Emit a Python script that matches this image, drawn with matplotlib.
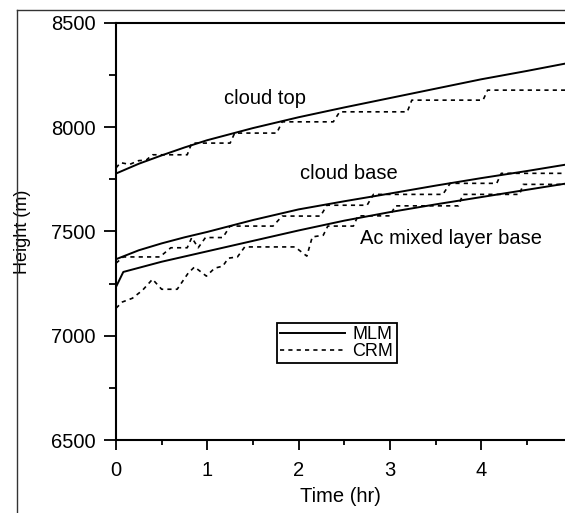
import matplotlib
matplotlib.use("Agg")
import matplotlib.pyplot as plt
from matplotlib.lines import Line2D

plt.rcParams['font.family'] = ['Liberation Sans', 'DejaVu Sans']

# ---- data (time in hr, height in m) ----
t_top_mlm = [0, 0.25, 0.5, 0.75, 1, 1.5, 2, 2.5, 3, 3.5, 4, 4.5, 5]
h_top_mlm = [7778, 7825, 7865, 7903, 7938, 7996, 8048, 8095, 8140, 8185, 8230, 8270, 8312]

t_base_mlm = [0, 0.25, 0.5, 0.75, 1, 1.5, 2, 2.5, 3, 3.5, 4, 4.5, 5]
h_base_mlm = [7367, 7410, 7443, 7472, 7498, 7555, 7606, 7645, 7682, 7720, 7756, 7790, 7826]

t_ac_mlm = [0, 0.08, 0.5, 1, 1.5, 2, 2.5, 3, 3.5, 4, 4.5, 5]
h_ac_mlm = [7234, 7306, 7355, 7405, 7455, 7505, 7552, 7593, 7630, 7665, 7700, 7735]

t_top_crm = [0, 0.05, 0.15, 0.25, 0.33, 0.40, 0.78, 0.83, 1.25, 1.30, 1.76, 1.82,
             2.38, 2.45, 3.19, 3.24, 4.02, 4.07, 5]
h_top_crm = [7805, 7830, 7822, 7840, 7842, 7868, 7868, 7924, 7924, 7972, 7972, 8026,
             8026, 8074, 8074, 8130, 8130, 8178, 8178]

t_base_crm = [0, 0.08, 0.48, 0.60, 0.78, 0.83, 0.90, 0.98, 1.17, 1.25, 1.72, 1.82,
              2.24, 2.31, 2.75, 2.82, 3.58, 3.66, 4.17, 4.22, 5]
h_base_crm = [7348, 7378, 7378, 7422, 7422, 7471, 7422, 7471, 7471, 7526, 7526, 7574,
              7574, 7626, 7626, 7678, 7678, 7731, 7731, 7779, 7779]

t_ac_crm = [0, 0.07, 0.18, 0.29, 0.40, 0.50, 0.67, 0.79, 0.86, 0.99, 1.08, 1.17, 1.23,
            1.33, 1.41, 1.96, 2.09, 2.15, 2.27, 2.32, 2.60, 2.65, 3.0, 3.06, 3.75, 3.8,
            4.42, 4.46, 5]
h_ac_crm = [7132, 7162, 7180, 7218, 7271, 7223, 7223, 7300, 7330, 7286, 7324, 7334, 7372,
            7378, 7426, 7426, 7382, 7474, 7482, 7526, 7526, 7575, 7575, 7623, 7623, 7678,
            7678, 7726, 7726]

x_ticks = [0, 1, 2, 3, 4]
y_ticks = [6500, 7000, 7500, 8000, 8500]

W, H = 565, 513
fig = plt.figure(figsize=(W / 100, H / 100), dpi=100)
left_px, right_px, top_px, bot_px = 116, 565, 23, 440
ax = fig.add_axes([left_px / W, (H - bot_px) / H, (right_px - left_px) / W,
                   (bot_px - top_px) / H])

solid = dict(color='black', lw=1.4, ls='-')
dash = dict(color='black', lw=1.2, ls=(0, (2.5, 2.5)))

ax.plot(t_top_mlm, h_top_mlm, **solid, label='MLM')
ax.plot(t_base_mlm, h_base_mlm, **solid)
ax.plot(t_ac_mlm, h_ac_mlm, **solid)
ax.plot(t_top_crm, h_top_crm, **dash, label='CRM')
ax.plot(t_base_crm, h_base_crm, **dash)
ax.plot(t_ac_crm, h_ac_crm, **dash)

FS = 14.5
xmax = (right_px - left_px) / 91.3
ax.set_xlim(0, xmax)
ax.set_ylim(6500, 8500)
ax.set_xticks(x_ticks)
ax.set_xticks([0.5, 1.5, 2.5, 3.5, 4.5], minor=True)
ax.set_yticks(y_ticks)
ax.set_yticks([6750, 7250, 7750, 8250], minor=True)

ax.tick_params(axis='both', which='both', direction='out', width=1.3, labelsize=FS)
ax.tick_params(axis='y', which='major', length=8.5, pad=6)
ax.tick_params(axis='y', which='minor', length=5)
ax.tick_params(axis='x', which='major', length=7, pad=8)
ax.tick_params(axis='x', which='minor', length=3.5)

for s in ['left', 'bottom', 'top']:
    ax.spines[s].set_linewidth(1.5)
ax.spines['right'].set_visible(False)

ax.set_xlabel('Time (hr)', fontsize=FS)
ax.set_ylabel('Height (m)', fontsize=13)
ax.xaxis.set_label_coords(0.50, -0.113)
ax.yaxis.set_label_coords(-0.19, 0.5)

ax.text(1.63, 8140, 'cloud top', fontsize=FS, ha='center', va='center')
ax.text(2.55, 7780, 'cloud base', fontsize=FS, ha='center', va='center')
ax.text(3.67, 7468, 'Ac mixed layer base', fontsize=FS, ha='center', va='center')

leg = ax.legend(loc='upper left', bbox_to_anchor=(0.3586, 0.2806), borderaxespad=0,
                fancybox=False, fontsize=13, handlelength=3.6, handletextpad=0.4,
                labelspacing=0.0, borderpad=0.18, framealpha=1)
leg.get_frame().set_edgecolor('black')
leg.get_frame().set_linewidth(1.3)

# scanned figure frame
fig.add_artist(Line2D([17 / W, 1], [1 - 10 / H, 1 - 10 / H], color='#333333', lw=1.0,
                      transform=fig.transFigure))
fig.add_artist(Line2D([17 / W, 17 / W], [0, 1 - 10 / H], color='#333333', lw=1.0,
                      transform=fig.transFigure))

fig.savefig('out.png', dpi=100)
